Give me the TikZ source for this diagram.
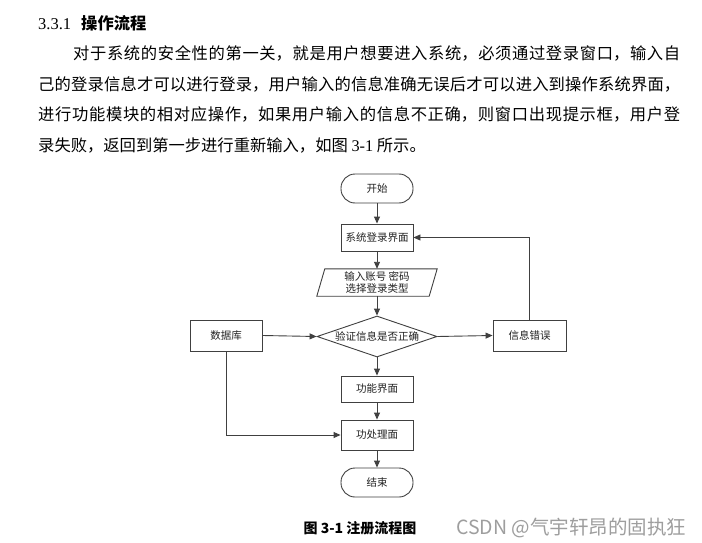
\documentclass[tikz,border=0pt]{standalone}
\usepackage{fontspec}
\setmainfont{Liberation Serif}
\newfontfamily\cjk{Noto Sans CJK SC}
\usetikzlibrary{shapes.geometric,arrows.meta}
\XeTeXlinebreaklocale "zh"
\XeTeXlinebreakskip=0pt plus 4pt minus 0.5pt
\definecolor{ln}{HTML}{404040}
\definecolor{tx}{HTML}{222222}
\tikzset{
  x=1pt,y=-1pt,
  flow/.style={draw=ln,line width=0.9pt,-{Triangle[length=7pt,width=6pt]}},
  term/.style={draw=ln,line width=0.9pt,rounded corners=14pt,minimum width=72pt,minimum height=29pt,inner sep=0pt,font=\cjk\fontsize{10.5}{12}\selectfont,text=tx},
  procbox/.style={draw=ln,line width=0.9pt,minimum width=72pt,inner sep=0pt,font=\cjk\fontsize{10.5}{12}\selectfont,text=tx},
  decbox/.style={draw=ln,line width=0.9pt,diamond,aspect=2.9,minimum width=120pt,minimum height=41pt,inner sep=0pt,font=\cjk\fontsize{10.5}{12}\selectfont,text=tx},
  paraline/.style={anchor=base west,inner sep=0pt,text width=642pt,align=justify,font=\cjk\fontsize{16.3}{20}\selectfont},
}
\begin{document}
\begin{tikzpicture}
\useasboundingbox[fill=white] (0,0) rectangle (702,543);
% heading and paragraph
\node[anchor=base west,inner sep=0pt,font=\fontsize{16.5}{20}\selectfont] (hnum) at (38,29.5) {3.3.1};
\node[anchor=base west,inner sep=0pt,font=\cjk\bfseries\fontsize{16.3}{20}\selectfont] (htitle) at (81,29.5) {操作流程};
\node[paraline] (l1) at (38,60) {\parfillskip=0pt\hspace*{35pt}对于系统的安全性的第一关，就是用户想要进入系统，必须通过登录窗口，输入自\par};
\node[paraline] (l2) at (38,91) {\parfillskip=0pt 己的登录信息才可以进行登录，用户输入的信息准确无误后才可以进入到操作系统界面，\par};
\node[paraline] (l3) at (38,121) {\parfillskip=0pt 进行功能模块的相对应操作，如果用户输入的信息不正确，则窗口出现提示框，用户登\par};
\node[anchor=base west,inner sep=0pt,font=\cjk\fontsize{16.3}{20}\selectfont] (l4) at (38,151.5) {录失败，返回到第一步进行重新输入，如图 {\rmfamily 3-1} 所示。};
% flowchart
\node[term] (start) at (377,188.5) {开始};
\node[procbox,minimum height=27pt] (login) at (377,237.5) {系统登录界面};
\node[minimum width=112pt,minimum height=27pt,inner sep=0pt,align=center,font=\cjk\fontsize{10.5}{12.5}\selectfont,text=tx] (io) at (377,282.5) {输入账号 密码\\选择登录类型};
\draw[ln,line width=0.9pt] ([xshift=-4pt]io.south west) -- ([xshift=4pt]io.north west) -- ([xshift=4pt]io.north east) -- ([xshift=-4pt]io.south east) -- cycle;
\node[decbox] (dec) at (377,336.5) {验证信息是否正确};
\node[procbox,minimum height=31pt] (db) at (226,335.5) {数据库};
\node[procbox,minimum width=73pt,minimum height=31pt] (err) at (529.5,335.5) {信息错误};
\node[procbox,minimum height=26pt] (func) at (377,389) {功能界面};
\node[procbox,minimum height=30pt] (proc) at (377,435) {功处理面};
\node[term] (end) at (377,482.5) {结束};
\draw[flow] (start) -- (login);
\draw[flow] (login) -- (io);
\draw[flow] (io) -- (dec);
\draw[flow] (db.east) -- (dec.west);
\draw[flow] (dec.east) -- (err.west);
\draw[flow] (err.north) |- (login.east);
\draw[flow] (dec.south) -- (func.north);
\draw[flow] (func) -- (proc);
\draw[flow] (db.south) |- (proc.west);
\draw[flow] (proc) -- (end);
% caption and watermark
\node[inner sep=0pt,font=\cjk\bfseries\fontsize{14}{16}\selectfont] (cap) at (360,528) {图 3-1 注册流程图};
\node[inner sep=0pt,text=black!38,anchor=base west,font=\cjk\fontsize{19.5}{22}\selectfont] (wm) at (456,534) {CSDN @气宇轩昂的固执狂};
\end{tikzpicture}
\end{document}
